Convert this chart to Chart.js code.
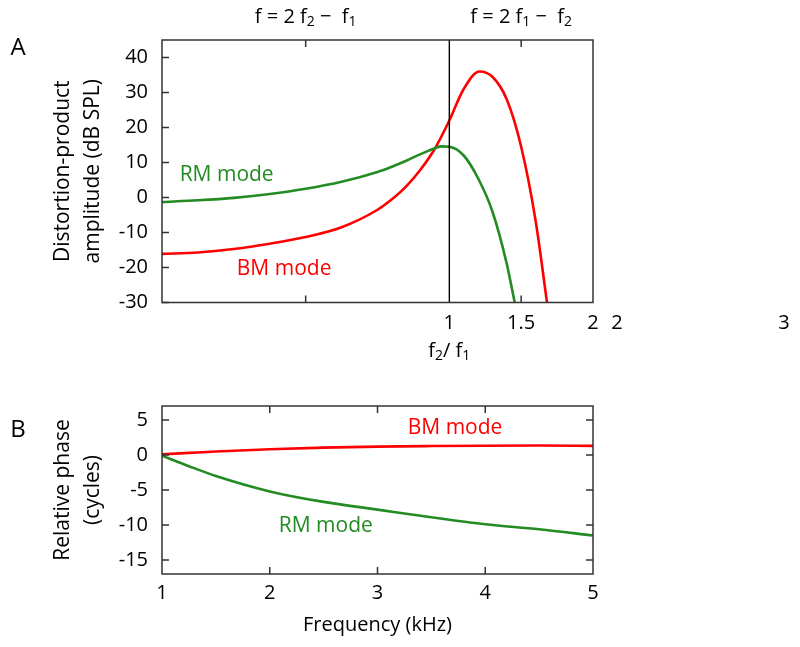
<!DOCTYPE html>
<html>
<head>
<meta charset="utf-8">
<script src="https://cdn.jsdelivr.net/npm/chart.js@4.4.0/dist/chart.umd.min.js"></script>
<style>
body { margin: 0; background: #fff; }
#wrapA { position: absolute; left: 0; top: 0; width: 800px; height: 380px; }
#wrapB { position: absolute; left: 0; top: 380px; width: 800px; height: 267px; }
</style>
</head>
<body>
<div id="wrapA"><canvas id="chartA" width="800" height="380"></canvas></div>
<div id="wrapB"><canvas id="chartB" width="800" height="267"></canvas></div>
<script>
// panel A: distortion-product amplitude vs f2/f1
const ampX = [-1, -0.75, -0.5, -0.25, 0, 0.25, 0.5, 0.6, 0.7, 0.8, 0.9, 0.95, 1.0, 1.1, 1.2, 1.3, 1.4, 1.455];
const ampRM = [-1.3, -0.8, -0.1, 1.0, 2.5, 4.5, 7.3, 8.8, 10.5, 12.4, 14.1, 14.6, 14.5, 12.0, 5.5, -4.0, -19, -30];
const ampBMX = [-1, -0.75, -0.5, -0.25, 0, 0.25, 0.5, 0.6, 0.7, 0.8, 0.9, 1.0, 1.1, 1.21, 1.3, 1.4, 1.5, 1.6, 1.68];
const ampBM = [-16.1, -15.7, -14.7, -13.2, -11.3, -8.5, -3.5, -0.5, 3.2, 8, 14, 22, 31, 36, 34.5, 28, 14.5, -6.5, -30];
const ampXTicks = [-1, 0, 1, 1.5, 2];
const ampXLabels = { '1': '1', '1.5': '1.5', '2': '2' };
const ampXMarks = [0, 1.5];
const ampYTicks = [-30, -20, -10, 0, 10, 20, 30, 40];

// panel B: relative phase vs frequency
const freqKHz = [1, 1.25, 1.5, 2, 2.5, 3, 3.5, 4, 4.5, 5];
const phaseBM = [0.1, 0.3, 0.5, 0.83, 1.05, 1.2, 1.28, 1.33, 1.35, 1.3];
const phaseRM = [-0.1, -1.6, -3.0, -5.2, -6.7, -7.8, -8.9, -9.9, -10.6, -11.5];
const freqTicks = [1, 2, 3, 4, 5];
const freqMarks = [2, 3, 4];
const phaseTicks = [-15, -10, -5, 0, 5];

const FONT = "'Open Sans', sans-serif";
const RED = '#ff0000';
const GREEN = '#228b22';
const FRAME = '#333333';

function pts(xs, ys) {
  return xs.map((x, i) => ({ x: x, y: ys[i] }));
}

function richText(ctx, parts, cx, baseY, size, color) {
  ctx.save();
  ctx.fillStyle = color;
  ctx.textAlign = 'left';
  ctx.textBaseline = 'alphabetic';
  let total = 0;
  parts.forEach(p => {
    ctx.font = (p[1] ? size * 0.7 : size) + 'px ' + FONT;
    total += ctx.measureText(p[0]).width;
  });
  let x = cx - total / 2;
  parts.forEach(p => {
    ctx.font = (p[1] ? size * 0.7 : size) + 'px ' + FONT;
    ctx.fillText(p[0], x, baseY + (p[1] ? size * 0.17 : 0));
    x += ctx.measureText(p[0]).width;
  });
  ctx.restore();
}

const decor = {
  id: 'decor',
  afterDraw(chart, args, opts) {
    const ctx = chart.ctx;
    const a = chart.chartArea;
    const xs = chart.scales.x;
    const ys = chart.scales.y;
    const len = 7;
    ctx.save();
    ctx.strokeStyle = FRAME;
    ctx.lineWidth = 1.5;
    ctx.beginPath();
    opts.xMarks.forEach(v => {
      const px = xs.getPixelForValue(v);
      ctx.moveTo(px, a.bottom); ctx.lineTo(px, a.bottom - len);
      ctx.moveTo(px, a.top); ctx.lineTo(px, a.top + len);
    });
    ys.ticks.forEach(t => {
      const py = ys.getPixelForValue(t.value);
      ctx.moveTo(a.left, py); ctx.lineTo(a.left + len, py);
      if (opts.rightMarks) { ctx.moveTo(a.right, py); ctx.lineTo(a.right - len, py); }
    });
    ctx.stroke();
    ctx.strokeRect(a.left, a.top, a.right - a.left, a.bottom - a.top);
    ctx.restore();

    ctx.save();
    ctx.textAlign = 'center';
    ctx.textBaseline = 'middle';
    opts.labels.forEach(l => {
      ctx.fillStyle = l.color;
      ctx.font = '21px ' + FONT;
      ctx.fillText(l.text, xs.getPixelForValue(l.x), ys.getPixelForValue(l.y));
    });
    ctx.fillStyle = '#000';
    ctx.font = '24px ' + FONT;
    ctx.fillText(opts.letter, 18, opts.letterY);
    ctx.restore();
    if (opts.extra) opts.extra(chart, ctx, a, xs);
  }
};

function tickFont() {
  return { family: FONT, size: 20 };
}

new Chart(document.getElementById('chartA'), {
  type: 'line',
  data: {
    datasets: [
      { data: [{ x: 1, y: -30 }, { x: 1, y: 45 }], borderColor: '#000', borderWidth: 1.4, pointRadius: 0, tension: 0 },
      { label: 'RM mode', data: pts(ampX, ampRM), borderColor: GREEN, borderWidth: 2.6, pointRadius: 0, tension: 0.4, cubicInterpolationMode: 'monotone' },
      { label: 'BM mode', data: pts(ampBMX, ampBM), borderColor: RED, borderWidth: 2.6, pointRadius: 0, tension: 0.4, cubicInterpolationMode: 'monotone' }
    ]
  },
  options: {
    responsive: false,
    animation: false,
    layout: { padding: { top: 40, right: 207, left: 0, bottom: 0 } },
    plugins: {
      legend: { display: false },
      tooltip: { enabled: false },
      decor: {
        xMarks: ampXMarks,
        rightMarks: false,
        letter: 'A',
        letterY: 48,
        labels: [
          { text: 'RM mode', color: GREEN, x: -0.55, y: 6.5 },
          { text: 'BM mode', color: RED, x: -0.15, y: -20.3 }
        ],
        extra: (chart, ctx, a, xs) => {
          richText(ctx, [['f = 2 f', false], ['2', true], [' \u2212  f', false], ['1', true]], xs.getPixelForValue(0), 23, 20, '#000');
          richText(ctx, [['f = 2 f', false], ['1', true], [' \u2212  f', false], ['2', true]], xs.getPixelForValue(1.5), 23, 20, '#000');
          richText(ctx, [['f', false], ['2', true], ['/ f', false], ['1', true]], xs.getPixelForValue(1), 357, 20, '#000');
          ctx.save();
          ctx.fillStyle = '#000';
          ctx.font = '20px ' + FONT;
          ctx.textAlign = 'center';
          ctx.textBaseline = 'middle';
          ctx.fillText('2', a.right + 24, 323);
          ctx.fillText('3', a.right + 191, 323);
          ctx.restore();
        }
      }
    },
    scales: {
      x: {
        type: 'linear', min: -1, max: 2,
        afterBuildTicks: s => { s.ticks = ampXTicks.map(v => ({ value: v })); },
        afterFit: s => { s.height = 77.5; },
        grid: { display: false, drawTicks: false },
        border: { display: false },
        ticks: {
          autoSkip: false, maxRotation: 0, padding: 8.5, color: '#000', font: tickFont(),
          callback: v => ampXLabels[String(v)] || ''
        }
      },
      y: {
        min: -30, max: 45,
        afterBuildTicks: s => { s.ticks = ampYTicks.map(v => ({ value: v })); },
        afterFit: s => { s.width = 162; },
        grid: { display: false, drawTicks: false },
        border: { display: false },
        ticks: { padding: 14, color: '#000', font: tickFont() },
        title: {
          display: true,
          text: ['Distortion-product', 'amplitude (dB SPL)'],
          color: '#000',
          font: { family: FONT, size: 21, lineHeight: 1.43 },
          padding: { top: 48, bottom: 0 }
        }
      }
    }
  },
  plugins: [decor]
});

new Chart(document.getElementById('chartB'), {
  type: 'line',
  data: {
    datasets: [
      { label: 'BM mode', data: pts(freqKHz, phaseBM), borderColor: RED, borderWidth: 2.6, pointRadius: 0, tension: 0.4, cubicInterpolationMode: 'monotone' },
      { label: 'RM mode', data: pts(freqKHz, phaseRM), borderColor: GREEN, borderWidth: 2.6, pointRadius: 0, tension: 0.4, cubicInterpolationMode: 'monotone' }
    ]
  },
  options: {
    responsive: false,
    animation: false,
    layout: { padding: { top: 21, right: 207, left: 0, bottom: 0 } },
    plugins: {
      legend: { display: false },
      tooltip: { enabled: false },
      decor: {
        xMarks: freqMarks,
        rightMarks: true,
        letter: 'B',
        letterY: 50,
        labels: [
          { text: 'BM mode', color: RED, x: 3.72, y: 3.8 },
          { text: 'RM mode', color: GREEN, x: 2.52, y: -10.1 }
        ]
      }
    },
    scales: {
      x: {
        type: 'linear', min: 1, max: 5,
        afterBuildTicks: s => { s.ticks = freqTicks.map(v => ({ value: v })); },
        afterFit: s => { s.height = 73; },
        grid: { display: false, drawTicks: false },
        border: { display: false },
        ticks: { autoSkip: false, maxRotation: 0, padding: 7, color: '#000', font: tickFont() },
        title: {
          display: true,
          text: 'Frequency (kHz)',
          color: '#000',
          font: { family: FONT, size: 20 },
          padding: { top: 0, bottom: 10 }
        }
      },
      y: {
        min: -17, max: 7,
        afterBuildTicks: s => { s.ticks = phaseTicks.map(v => ({ value: v })); },
        afterFit: s => { s.width = 162; },
        grid: { display: false, drawTicks: false },
        border: { display: false },
        ticks: { padding: 14, color: '#000', font: tickFont() },
        title: {
          display: true,
          text: ['Relative phase', '(cycles)'],
          color: '#000',
          font: { family: FONT, size: 21, lineHeight: 1.43 },
          padding: { top: 48, bottom: 0 }
        }
      }
    }
  },
  plugins: [decor]
});
</script>
</body>
</html>
